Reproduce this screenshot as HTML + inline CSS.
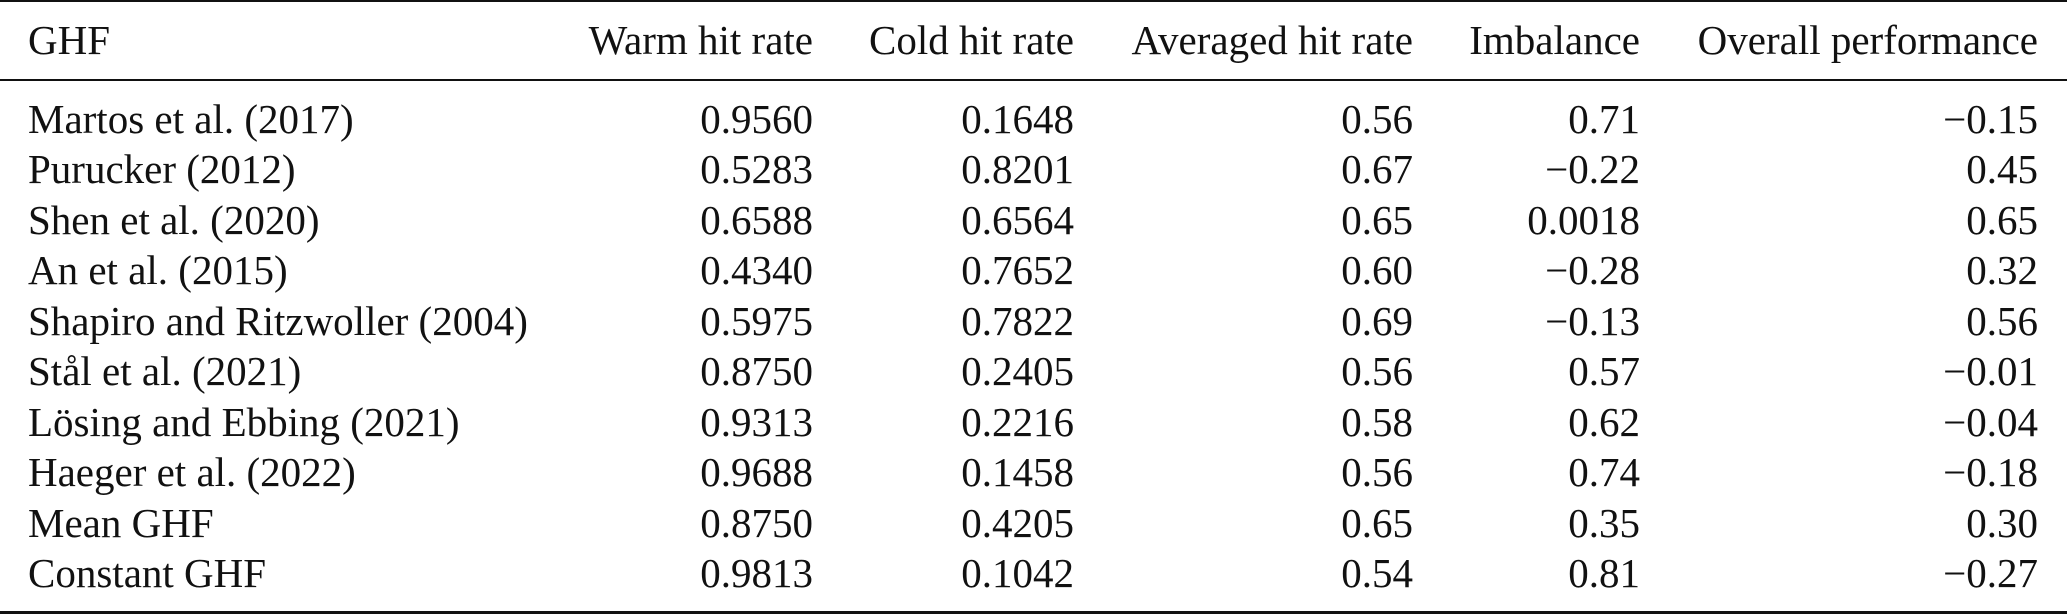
<!DOCTYPE html>
<html><head><meta charset="utf-8"><style>
html,body{margin:0;padding:0;background:#fff;}
body{width:2067px;height:615px;position:relative;overflow:hidden;font-family:"Liberation Serif",serif;font-size:41px;color:#111;}
.r{position:absolute;left:0;width:2067px;background:#111;}
.row{position:absolute;left:0;width:2067px;height:44px;line-height:44px;white-space:nowrap;}
.row span{position:absolute;top:0;}
.a{left:28px;}
.c1,.c2,.c3,.c4,.c5{text-align:right;width:500px;}
.c1{left:313px;}.c2{left:574px;}.c3{left:913px;}.c4{left:1140px;}.c5{left:1538px;}
</style></head><body>
<div class="r" style="top:0;height:2px"></div>
<div class="r" style="top:79px;height:2px"></div>
<div class="r" style="top:611px;height:3px"></div>

<div class="row" style="top:18px"><span class="a">GHF</span><span class="c1">Warm hit rate</span><span class="c2">Cold hit rate</span><span class="c3">Averaged hit rate</span><span class="c4">Imbalance</span><span class="c5">Overall performance</span></div>
<div class="row" style="top:97px"><span class="a">Martos et al. (2017)</span><span class="c1">0.9560</span><span class="c2">0.1648</span><span class="c3">0.56</span><span class="c4">0.71</span><span class="c5">−0.15</span></div>
<div class="row" style="top:147px"><span class="a">Purucker (2012)</span><span class="c1">0.5283</span><span class="c2">0.8201</span><span class="c3">0.67</span><span class="c4">−0.22</span><span class="c5">0.45</span></div>
<div class="row" style="top:198px"><span class="a">Shen et al. (2020)</span><span class="c1">0.6588</span><span class="c2">0.6564</span><span class="c3">0.65</span><span class="c4">0.0018</span><span class="c5">0.65</span></div>
<div class="row" style="top:248px"><span class="a">An et al. (2015)</span><span class="c1">0.4340</span><span class="c2">0.7652</span><span class="c3">0.60</span><span class="c4">−0.28</span><span class="c5">0.32</span></div>
<div class="row" style="top:299px"><span class="a">Shapiro and Ritzwoller (2004)</span><span class="c1">0.5975</span><span class="c2">0.7822</span><span class="c3">0.69</span><span class="c4">−0.13</span><span class="c5">0.56</span></div>
<div class="row" style="top:349px"><span class="a">Stål et al. (2021)</span><span class="c1">0.8750</span><span class="c2">0.2405</span><span class="c3">0.56</span><span class="c4">0.57</span><span class="c5">−0.01</span></div>
<div class="row" style="top:400px"><span class="a">Lösing and Ebbing (2021)</span><span class="c1">0.9313</span><span class="c2">0.2216</span><span class="c3">0.58</span><span class="c4">0.62</span><span class="c5">−0.04</span></div>
<div class="row" style="top:450px"><span class="a">Haeger et al. (2022)</span><span class="c1">0.9688</span><span class="c2">0.1458</span><span class="c3">0.56</span><span class="c4">0.74</span><span class="c5">−0.18</span></div>
<div class="row" style="top:501px"><span class="a">Mean GHF</span><span class="c1">0.8750</span><span class="c2">0.4205</span><span class="c3">0.65</span><span class="c4">0.35</span><span class="c5">0.30</span></div>
<div class="row" style="top:551px"><span class="a">Constant GHF</span><span class="c1">0.9813</span><span class="c2">0.1042</span><span class="c3">0.54</span><span class="c4">0.81</span><span class="c5">−0.27</span></div>
</body></html>
